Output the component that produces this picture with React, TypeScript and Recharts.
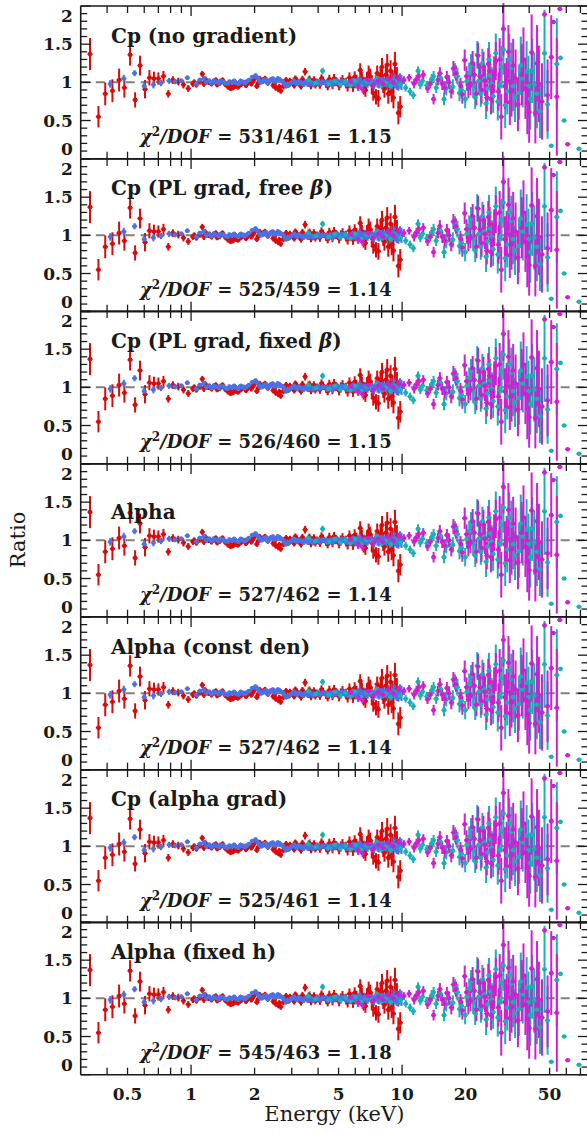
import { ScatterChart, Scatter, XAxis, YAxis, ErrorBar, ReferenceLine } from 'recharts';

// Data/model ratios for seven spectral models fitted jointly to
// XMM-Newton (pn, MOS) and NuSTAR (FPMA, FPMB) spectra.
// Each point: [energy keV, ratio, 1-sigma error]
type Pt = [number, number, number];

const xmmPn: Pt[] = [
  [0.332, 1.37, 0.21], [0.364, 0.55, 0.14], [0.392, 0.85, 0.15], [0.424, 0.89, 0.15],
  [0.456, 1.03, 0.15], [0.483, 0.93, 0.13], [0.514, 1.36, 0.14], [0.543, 0.77, 0.1],
  [0.573, 1.22, 0.13], [0.605, 0.91, 0.12], [0.635, 1.06, 0.1], [0.667, 1.05, 0.09],
  [0.7, 1.05, 0.08], [0.74, 1.08, 0.07], [0.78, 0.85, 0.05], [0.82, 1.03, 0.05],
  [0.87, 1.01, 0.05], [0.92, 0.97, 0.05], [0.97, 0.92, 0.045], [1.02, 0.98, 0.04],
  [1.035, 1.0, 0.04], [1.06, 0.97, 0.04], [1.1, 1.01, 0.04], [1.13, 1.11, 0.04],
  [1.15, 0.98, 0.04], [1.17, 1.04, 0.04], [1.21, 1.0, 0.035], [1.25, 0.98, 0.035],
  [1.29, 1.01, 0.035], [1.31, 1.03, 0.035], [1.33, 0.97, 0.035], [1.37, 0.99, 0.035],
  [1.41, 1.03, 0.035], [1.44, 0.99, 0.035], [1.46, 0.97, 0.035], [1.5, 0.94, 0.035],
  [1.52, 0.96, 0.035], [1.54, 0.92, 0.035], [1.58, 0.93, 0.035], [1.62, 0.97, 0.035],
  [1.64, 0.95, 0.035], [1.67, 0.94, 0.035], [1.72, 0.97, 0.035], [1.74, 0.99, 0.035],
  [1.77, 1.0, 0.035], [1.82, 0.96, 0.035], [1.84, 0.98, 0.035], [1.87, 1.01, 0.035],
  [1.93, 0.98, 0.035], [1.96, 1.01, 0.035], [1.99, 1.04, 0.035], [2.05, 0.95, 0.035],
  [2.08, 0.99, 0.035], [2.11, 1.05, 0.035], [2.17, 1.01, 0.035], [2.2, 1.03, 0.035],
  [2.24, 1.05, 0.035], [2.31, 0.99, 0.035], [2.34, 1.01, 0.035], [2.38, 1.03, 0.035],
  [2.45, 0.96, 0.04], [2.48, 0.98, 0.04], [2.52, 0.93, 0.04], [2.59, 0.91, 0.04],
  [2.62, 0.94, 0.04], [2.66, 0.89, 0.04], [2.74, 0.95, 0.04], [2.78, 0.98, 0.04],
  [2.82, 1.03, 0.04], [2.9, 0.97, 0.04], [2.94, 1.02, 0.04], [2.99, 1.0, 0.04],
  [3.08, 0.96, 0.04], [3.12, 1.05, 0.04], [3.17, 1.02, 0.04], [3.27, 0.98, 0.045],
  [3.32, 0.95, 0.045], [3.37, 1.04, 0.045], [3.47, 1.14, 0.05], [3.58, 0.99, 0.05],
  [3.64, 1.04, 0.05], [3.7, 0.96, 0.05], [3.82, 1.03, 0.05], [3.88, 0.97, 0.05],
  [3.95, 1.0, 0.05], [4.08, 0.97, 0.055], [4.15, 1.05, 0.055], [4.22, 1.02, 0.055],
  [4.37, 0.98, 0.055], [4.44, 0.95, 0.055], [4.52, 1.04, 0.06], [4.68, 0.97, 0.06],
  [4.76, 1.05, 0.06], [4.85, 1.01, 0.06], [5.03, 0.96, 0.065], [5.12, 1.0, 0.065],
  [5.22, 1.03, 0.065], [5.42, 0.99, 0.07], [5.52, 0.95, 0.07], [5.63, 1.06, 0.07],
  [5.85, 0.95, 0.075], [5.96, 1.07, 0.075], [6.08, 1.02, 0.08], [6.2, 0.97, 0.08],
  [6.33, 1.16, 0.09], [6.45, 1.05, 0.09], [6.58, 0.93, 0.09], [6.7, 0.9, 0.09],
  [6.82, 1.04, 0.09], [6.94, 1.12, 0.1], [7.06, 1.08, 0.1], [7.18, 0.97, 0.1],
  [7.3, 0.86, 0.1], [7.52, 0.81, 0.1], [7.62, 1.12, 0.1], [7.72, 0.79, 0.11],
  [7.9, 1.09, 0.11], [8.03, 1.2, 0.12], [8.14, 0.98, 0.12], [8.25, 0.92, 0.12],
  [8.38, 1.1, 0.13], [8.5, 1.23, 0.14], [8.6, 0.85, 0.13], [8.72, 0.95, 0.13],
  [8.82, 1.15, 0.14], [8.93, 0.88, 0.14], [9.0, 1.02, 0.14], [9.1, 0.8, 0.14],
  [9.25, 1.24, 0.16], [9.45, 1.05, 0.15], [9.6, 0.6, 0.15], [9.8, 0.68, 0.14],
];

const xmmMos: Pt[] = [
  [0.414, 0.98, 0.05], [0.48, 1.05, 0.05], [0.54, 1.12, 0.04], [0.6, 0.95, 0.05],
  [0.663, 0.97, 0.05], [0.72, 0.99, 0.04], [0.787, 1.02, 0.04], [0.84, 1.01, 0.035],
  [0.9, 1.02, 0.03], [0.96, 1.06, 0.03], [1.06, 0.98, 0.03], [1.1, 1.03, 0.03],
  [1.15, 1.05, 0.03], [1.18, 1.0, 0.03], [1.22, 1.02, 0.03], [1.25, 0.99, 0.03],
  [1.28, 1.02, 0.03], [1.31, 1.01, 0.025], [1.35, 0.99, 0.025], [1.38, 1.02, 0.025],
  [1.42, 1.01, 0.025], [1.45, 0.99, 0.025], [1.49, 0.98, 0.025], [1.52, 1.01, 0.025],
  [1.56, 1.0, 0.025], [1.6, 1.02, 0.025], [1.64, 0.99, 0.025], [1.68, 0.98, 0.025],
  [1.72, 1.02, 0.025], [1.76, 1.0, 0.025], [1.8, 0.99, 0.025], [1.84, 1.01, 0.025],
  [1.88, 1.03, 0.025], [1.95, 1.07, 0.025], [2.02, 1.09, 0.025], [2.06, 1.06, 0.025],
  [2.1, 1.03, 0.025], [2.14, 1.0, 0.025], [2.18, 1.01, 0.025], [2.22, 1.03, 0.025],
  [2.26, 1.04, 0.025], [2.3, 0.99, 0.025], [2.35, 1.02, 0.025], [2.4, 1.03, 0.025],
  [2.44, 1.05, 0.025], [2.48, 1.01, 0.025], [2.53, 1.03, 0.025], [2.58, 1.05, 0.03],
  [2.62, 1.04, 0.03], [2.67, 1.02, 0.03], [2.72, 1.01, 0.03], [2.77, 0.98, 0.03],
  [2.82, 0.95, 0.03], [2.87, 0.96, 0.03], [2.92, 0.97, 0.03], [2.97, 0.99, 0.03],
  [3.02, 1.0, 0.03], [3.08, 1.02, 0.03], [3.13, 0.99, 0.03], [3.18, 0.98, 0.03],
  [3.24, 1.01, 0.03], [3.3, 1.0, 0.03], [3.35, 0.98, 0.03], [3.41, 0.97, 0.03],
  [3.47, 1.0, 0.03], [3.53, 1.01, 0.03], [3.59, 0.97, 0.03], [3.65, 0.99, 0.035],
  [3.72, 1.0, 0.035], [3.78, 0.97, 0.035], [3.85, 0.98, 0.035], [3.92, 1.0, 0.035],
  [3.99, 1.01, 0.035], [4.06, 0.98, 0.035], [4.13, 0.99, 0.035], [4.2, 1.01, 0.035],
  [4.28, 1.0, 0.035], [4.36, 0.99, 0.04], [4.43, 0.97, 0.04], [4.51, 1.0, 0.04],
  [4.59, 1.01, 0.04], [4.67, 0.97, 0.04], [4.75, 0.99, 0.04], [4.84, 1.0, 0.04],
  [4.92, 1.02, 0.04], [5.01, 0.99, 0.045], [5.1, 0.98, 0.045], [5.19, 1.02, 0.045],
  [5.28, 1.01, 0.045], [5.38, 0.99, 0.045], [5.47, 0.97, 0.045], [5.57, 0.98, 0.05],
  [5.67, 1.0, 0.05], [5.77, 1.01, 0.05], [5.87, 1.03, 0.05], [5.98, 0.97, 0.05],
  [6.08, 0.99, 0.05], [6.19, 1.01, 0.05], [6.3, 1.04, 0.05], [6.41, 0.98, 0.055],
  [6.52, 1.0, 0.055], [6.64, 1.02, 0.055], [6.75, 0.97, 0.055], [6.87, 0.99, 0.06],
  [6.99, 1.02, 0.06], [7.12, 1.01, 0.06], [7.24, 0.98, 0.06], [7.37, 0.97, 0.065],
  [7.5, 1.03, 0.065], [7.64, 1.0, 0.07], [7.77, 0.99, 0.07], [7.91, 1.04, 0.07],
  [8.05, 1.01, 0.07], [8.2, 0.99, 0.075], [8.34, 0.97, 0.075], [8.49, 1.01, 0.08],
  [8.64, 1.02, 0.08], [8.8, 0.96, 0.08], [8.95, 0.99, 0.08], [9.11, 1.03, 0.09],
  [9.27, 1.01, 0.09], [9.44, 0.99, 0.09], [9.6, 0.98, 0.09], [9.77, 1.02, 0.1],
  [9.94, 1.0, 0.1],
];

const fpmA: Pt[] = [
  [3.6, 1.03, 0.05], [3.9, 0.99, 0.05], [4.2, 1.15, 0.04], [4.5, 0.98, 0.04],
  [4.8, 1.02, 0.04], [5.1, 0.97, 0.04], [5.4, 1.01, 0.04], [5.7, 0.96, 0.04],
  [6.0, 1.02, 0.04], [6.4, 0.95, 0.045], [6.8, 1.01, 0.045], [7.2, 0.98, 0.045],
  [7.6, 1.04, 0.05], [8.0, 0.96, 0.05], [8.4, 1.0, 0.05], [8.8, 0.95, 0.05],
  [9.3, 1.02, 0.05], [9.8, 0.97, 0.05], [10.4, 0.93, 0.05], [10.9, 0.88, 0.05],
  [11.3, 0.83, 0.05], [11.9, 1.15, 0.06], [12.2, 0.97, 0.06], [12.5, 1.02, 0.06],
  [13.1, 0.96, 0.06], [13.8, 1.04, 0.07], [14.1, 1.08, 0.07], [14.5, 0.93, 0.07],
  [15.2, 1.06, 0.08], [15.8, 0.78, 0.08], [16.2, 0.92, 0.09], [16.6, 1.0, 0.09],
  [17.4, 0.94, 0.1], [17.8, 1.15, 0.1], [18.3, 1.08, 0.11], [18.7, 0.86, 0.11],
  [19.1, 0.9, 0.12], [19.9, 0.78, 0.12], [20.3, 1.02, 0.13], [20.8, 1.12, 0.14],
  [21.2, 1.22, 0.15], [21.7, 0.95, 0.15], [22.2, 0.8, 0.15], [22.7, 1.36, 0.18],
  [23.1, 1.02, 0.17], [23.6, 0.85, 0.17], [24.0, 1.25, 0.19], [24.5, 1.05, 0.19],
  [25.0, 0.72, 0.2], [25.4, 0.92, 0.2], [25.8, 1.3, 0.23], [26.2, 1.09, 0.22],
  [26.6, 0.98, 0.22], [27.0, 0.82, 0.22], [27.8, 1.38, 0.26], [28.4, 0.75, 0.25],
  [29.0, 0.96, 0.27], [29.6, 1.2, 0.28], [30.2, 1.43, 0.33], [30.8, 0.7, 0.3],
  [31.5, 0.88, 0.3], [32.2, 1.3, 0.33], [32.9, 1.19, 0.33], [33.6, 0.95, 0.33],
  [34.3, 0.8, 0.32], [35.8, 0.86, 0.35], [36.5, 1.22, 0.38], [37.3, 1.05, 0.38],
  [38.9, 1.14, 0.4], [39.7, 0.95, 0.4], [40.5, 0.78, 0.4], [41.4, 1.15, 0.42],
  [42.3, 0.97, 0.42], [43.5, 0.85, 0.45], [45.0, 0.62, 0.35], [47.3, 1.38, 0.57],
  [48.9, 0.71, 0.45], [50.9, 0.17, 0], [54.1, 1.24, 0.6], [56.3, 1.32, 0],
  [58.6, 0.5, 0], [68.9, 0.13, 0],
];

const fpmB: Pt[] = [
  [5.7, 1.01, 0.05], [6.2, 0.94, 0.05], [6.5, 0.91, 0.05], [6.9, 1.03, 0.05],
  [7.3, 0.97, 0.05], [7.7, 1.02, 0.05], [8.1, 0.98, 0.05], [8.6, 1.04, 0.05],
  [9.1, 1.0, 0.05], [9.6, 1.05, 0.05], [10.2, 1.03, 0.05], [10.8, 1.06, 0.05],
  [11.4, 0.98, 0.06], [11.7, 1.04, 0.06], [12.0, 1.08, 0.06], [12.6, 1.1, 0.06],
  [13.2, 0.92, 0.06], [13.6, 0.98, 0.06], [14.1, 0.78, 0.07], [14.8, 1.03, 0.07],
  [15.1, 1.12, 0.08], [15.5, 0.98, 0.08], [15.9, 0.93, 0.08], [16.3, 1.07, 0.08],
  [16.7, 1.0, 0.09], [17.1, 0.88, 0.09], [17.5, 1.18, 0.1], [18.0, 1.12, 0.1],
  [18.9, 0.96, 0.1], [19.3, 0.84, 0.12], [19.8, 1.29, 0.14], [20.2, 1.08, 0.13],
  [20.6, 0.92, 0.13], [21.1, 0.97, 0.14], [21.6, 1.25, 0.16], [22.0, 1.1, 0.16],
  [22.5, 0.85, 0.15], [22.9, 1.35, 0.17], [23.4, 1.08, 0.17], [23.8, 0.9, 0.18],
  [24.3, 1.2, 0.2], [24.7, 1.02, 0.2], [25.2, 0.8, 0.18], [25.6, 1.24, 0.21],
  [26.0, 1.15, 0.22], [26.4, 0.78, 0.2], [26.9, 0.95, 0.22], [27.3, 1.1, 0.24],
  [27.8, 1.28, 0.25], [28.6, 0.88, 0.25], [29.0, 1.3, 0.28], [29.5, 0.55, 0.3],
  [30.2, 1.7, 0.35], [30.7, 0.95, 0.3], [31.3, 1.02, 0.3], [31.9, 1.4, 0.35],
  [32.4, 0.74, 0.3], [33.0, 0.88, 0.33], [33.6, 1.22, 0.35], [34.5, 1.05, 0.38],
  [35.4, 0.71, 0.35], [36.9, 1.1, 0.4], [37.6, 1.3, 0.42], [38.4, 0.92, 0.4],
  [39.2, 0.72, 0.4], [40.0, 0.61, 0.4], [41.1, 1.39, 0.5], [42.8, 0.6, 0.4],
  [43.6, 1.25, 0.5], [44.5, 0.98, 0.5], [46.0, 0.75, 0.5], [47.3, 1.89, 0],
  [48.9, 0.83, 0.47], [50.9, 1.33, 0.55], [52.1, 1.79, 0], [54.1, 0.81, 0.77],
  [55.9, 1.96, 0], [60.9, 0.19, 0],
];

const modelNames = [
  'Cp (no gradient)',
  'Cp (PL grad, free β)',
  'Cp (PL grad, fixed β)',
  'Alpha',
  'Alpha (const den)',
  'Cp (alpha grad)',
  'Alpha (fixed h)',
];
const chiSquared = [531, 525, 526, 527, 527, 525, 545];
const dof = [461, 459, 460, 462, 462, 461, 463];
const reducedChi = ['1.15', '1.14', '1.15', '1.14', '1.14', '1.14', '1.18'];

const energyTicks = [0.4, 0.5, 0.6, 0.7, 0.8, 0.9, 1, 2, 3, 4, 5, 6, 7, 8, 9, 10, 20, 30, 40, 50, 60, 70];
const energyLabels = [0.5, 1, 2, 5, 10, 20, 50];
const ratioTicks = [
  0, 0.1, 0.2, 0.3, 0.4, 0.5, 0.6, 0.7, 0.8, 0.9, 1,
  1.1, 1.2, 1.3, 1.4, 1.5, 1.6, 1.7, 1.8, 1.9, 2,
];
const ratioLabels = [0, 0.5, 1, 1.5, 2];

const PN = '#dc0a0a';
const MOS = '#4a72e6';
const FPMA = '#17b2b4';
const FPMB = '#d21ed2';
const INK = '#1a1a1a';
const FONT = '"DejaVu Serif", serif';

const FIG_W = 587;
const FIG_H = 1133;
const CHART_W = 600;
const PLOT_L = 80.7;
const PLOT_R = 588;
const TOP0 = 6;
const PH = 152.7;
const PAD = 3;
const LAST_EXTRA = 34;

const rows = (pts: Pt[]) => pts.map(([E, r, e]) => ({ E, r, e }));

const marker = (color: string) => (p: any) => (
  <g>
    <line x1={p.cx - 2.6} x2={p.cx + 2.6} y1={p.cy} y2={p.cy} stroke={color} strokeWidth={1.4} />
    <circle cx={p.cx} cy={p.cy} r={2.3} fill={color} />
  </g>
);

function RatioTick(props: any) {
  const { y, payload } = props;
  const v = payload.value as number;
  const major = ratioLabels.includes(v);
  const len = major ? 10 : 6.5;
  const shift = v === 2 ? 10 : v === 0 ? -10 : 0;
  return (
    <g>
      <line x1={PLOT_L} x2={PLOT_L + len} y1={y} y2={y} stroke={INK} strokeWidth={1.3} />
      <line x1={PLOT_R - len} x2={PLOT_R} y1={y} y2={y} stroke={INK} strokeWidth={1.3} />
      {major && (
        <text
          x={PLOT_L - 8}
          y={y + shift}
          textAnchor="end"
          dominantBaseline="central"
          fontFamily={FONT}
          fontWeight="bold"
          fontSize={17}
          fill={INK}
        >
          {v}
        </text>
      )}
    </g>
  );
}

function EnergyTick(props: any) {
  const { x, payload, labelled } = props;
  const v = payload.value as number;
  const len = v === 1 || v === 10 ? 10 : 7;
  const bottom = PAD + PH;
  return (
    <g>
      <line x1={x} x2={x} y1={bottom} y2={bottom - len} stroke={INK} strokeWidth={1.3} />
      <line x1={x} x2={x} y1={PAD} y2={PAD + len} stroke={INK} strokeWidth={1.3} />
      {labelled && energyLabels.includes(v) && (
        <text
          x={x}
          y={bottom + 19}
          textAnchor="middle"
          dominantBaseline="central"
          fontFamily={FONT}
          fontWeight="bold"
          fontSize={17}
          fill={INK}
        >
          {v}
        </text>
      )}
    </g>
  );
}

function Panel({ index }: { index: number }) {
  const last = index === modelNames.length - 1;
  const extra = last ? LAST_EXTRA : 0;
  const series: [Pt[], string][] = [
    [xmmPn, PN],
    [xmmMos, MOS],
    [fpmA, FPMA],
    [fpmB, FPMB],
  ];
  return (
    <div style={{ position: 'absolute', left: 0, top: TOP0 + index * PH - PAD }}>
      <ScatterChart
        width={CHART_W}
        height={PH + 2 * PAD + extra}
        margin={{ top: PAD, right: CHART_W - PLOT_R, bottom: PAD - 1 + extra, left: 0 }}
      >
        <XAxis
          dataKey="E"
          type="number"
          scale="log"
          domain={[0.3, 76]}
          allowDataOverflow
          ticks={energyTicks}
          interval={0}
          height={1}
          tickSize={0}
          tickMargin={0}
          axisLine={false}
          tickLine={false}
          tick={(p: any) => <EnergyTick {...p} labelled={last} />}
        />
        <YAxis
          dataKey="r"
          type="number"
          domain={[0, 2]}
          allowDataOverflow
          ticks={ratioTicks}
          interval={0}
          width={PLOT_L}
          tickSize={0}
          tickMargin={0}
          axisLine={false}
          tickLine={false}
          tick={RatioTick}
        />
        <ReferenceLine y={1} stroke="#808080" strokeWidth={2} strokeDasharray="9 6" />
        {series.map(([pts, color], k) => (
          <Scatter
            key={k}
            data={rows(pts)}
            fill={color}
            shape={marker(color)}
            isAnimationActive={false}
          >
            <ErrorBar dataKey="e" direction="y" width={0} stroke={color} strokeWidth={2} />
          </Scatter>
        ))}
        <ReferenceLine y={2} stroke={INK} strokeWidth={1.6} />
        <ReferenceLine y={0} stroke={INK} strokeWidth={1.6} />
        <ReferenceLine x={0.3} stroke={INK} strokeWidth={1.6} />
        <ReferenceLine x={76} stroke={INK} strokeWidth={1.6} />
      </ScatterChart>
    </div>
  );
}

function Title({ name, top }: { name: string; top: number }) {
  const cut = name.indexOf('β');
  return (
    <text x={111} y={top} fontWeight="bold" fontSize={20}>
      {cut < 0 ? (
        name
      ) : (
        <>
          {name.slice(0, cut)}
          <tspan fontStyle="italic">β</tspan>
          {name.slice(cut + 1)}
        </>
      )}
    </text>
  );
}

export default function App() {
  return (
    <div
      style={{
        position: 'fixed',
        left: 0,
        top: 0,
        width: FIG_W,
        height: FIG_H,
        overflow: 'hidden',
        background: '#fff',
      }}
    >
      {modelNames.map((_, i) => (
        <Panel key={i} index={i} />
      ))}
      <svg
        width={FIG_W}
        height={FIG_H}
        style={{ position: 'absolute', left: 0, top: 0, pointerEvents: 'none' }}
        fontFamily={FONT}
        fill={INK}
      >
        {modelNames.map((name, i) => {
          const top = TOP0 + i * PH;
          // the single-word title sits lower, level with the 1.5 tick
          const titleY = top + (name === 'Alpha' ? 55 : 36.7);
          return (
            <g key={i}>
              <Title name={name} top={titleY} />
              <text x={140} y={top + 137} fontWeight="bold" fontSize={18}>
                <tspan fontStyle="italic">χ</tspan>
                <tspan fontSize={12} dy={-7}>2</tspan>
                <tspan fontStyle="italic" dy={7}>/DOF</tspan>
                {` = ${chiSquared[i]}/${dof[i]} = ${reducedChi[i]}`}
              </text>
            </g>
          );
        })}
        <text
          transform="translate(18 540) rotate(-90)"
          textAnchor="middle"
          dominantBaseline="central"
          fontSize={21}
        >
          Ratio
        </text>
        <text x={(PLOT_L + PLOT_R) / 2} y={1121} textAnchor="middle" fontSize={21}>
          Energy (keV)
        </text>
      </svg>
    </div>
  );
}
